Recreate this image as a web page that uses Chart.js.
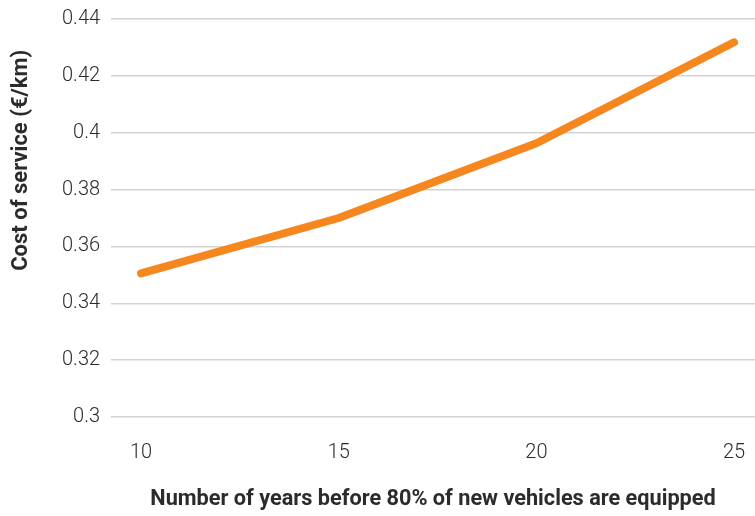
<!DOCTYPE html>
<html>
<head>
<meta charset="utf-8">
<script src="https://cdn.jsdelivr.net/npm/chart.js@4/dist/chart.umd.min.js"></script>
<style>
  html, body { margin: 0; padding: 0; background: #fff; }
  #wrap { width: 755px; height: 516px; }
</style>
</head>
<body>
<div id="wrap"><canvas id="c" width="755" height="516"></canvas></div>
<script>
// Years before 80% of new vehicles are equipped
const years = [10, 15, 20, 25];
// Cost of service in EUR per km
const costPerKm = [0.3505, 0.370, 0.3963, 0.4318];
// Tick labels shown on each axis
const xTicks = [10, 15, 20, 25];
const yTicks = [0.3, 0.32, 0.34, 0.36, 0.38, 0.4, 0.42, 0.44];

const textColor = '#2b2b2b';
const fontFamily = 'Roboto, "DejaVu Sans", sans-serif';
const yTitleText = 'Cost of service (€/km)';

// Vertical axis title, placed a little above the middle of the plot area
const yTitlePlugin = {
  id: 'yTitle',
  afterDraw(chart) {
    const { ctx, chartArea } = chart;
    const cy = chartArea.top + (chartArea.bottom - chartArea.top) * 0.355;
    ctx.save();
    ctx.translate(21, cy);
    ctx.rotate(-Math.PI / 2);
    ctx.fillStyle = textColor;
    ctx.font = 'bold 22px ' + fontFamily;
    ctx.textAlign = 'center';
    ctx.textBaseline = 'middle';
    ctx.fillText(yTitleText, 0, 0);
    ctx.restore();
  }
};

new Chart(document.getElementById('c'), {
  type: 'line',
  data: {
    datasets: [{
      data: years.map((y, i) => ({ x: y, y: costPerKm[i] })),
      borderColor: '#f6871f',
      borderWidth: 8,
      borderCapStyle: 'round',
      borderJoinStyle: 'round',
      pointRadius: 0,
      tension: 0,
      fill: false
    }]
  },
  plugins: [yTitlePlugin],
  options: {
    responsive: false,
    animation: false,
    layout: { padding: { top: 0, right: 0, left: 51, bottom: 3 } },
    plugins: { legend: { display: false }, tooltip: { enabled: false } },
    scales: {
      x: {
        type: 'linear',
        min: 9.24,
        max: 25.53,
        afterBuildTicks: (axis) => { axis.ticks = xTicks.map(v => ({ value: v })); },
        // the plot runs right up to the canvas edge
        afterFit: (axis) => { axis.paddingLeft = 0; axis.paddingRight = 0; },
        grid: { display: false },
        border: { display: false },
        ticks: {
          color: textColor,
          font: { family: fontFamily, size: 20, weight: 300 },
          padding: 16,
          maxRotation: 0
        },
        title: {
          display: true,
          text: 'Number of years before 80% of new vehicles are equipped',
          color: textColor,
          font: { family: fontFamily, size: 21.7, weight: 'bold' },
          padding: { top: 6, bottom: 0 }
        }
      },
      y: {
        min: 0.3,
        max: 0.44,
        afterBuildTicks: (axis) => { axis.ticks = yTicks.map(v => ({ value: v })); },
        grid: { color: '#d3d3d3', lineWidth: 1.5, drawTicks: false },
        border: { display: false },
        ticks: {
          color: textColor,
          font: { family: fontFamily, size: 20, weight: 300, lineHeight: 0.8 },
          padding: 11,
          callback: (v) => String(+v.toFixed(2))
        }
      }
    }
  }
});
</script>
</body>
</html>
